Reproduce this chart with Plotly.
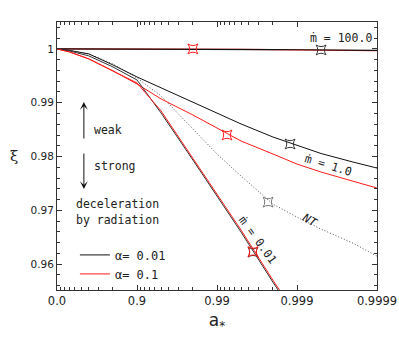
import plotly.graph_objects as go

# spin parameter grid (a_*) shared by the curves
a_star = [0.0, 0.3, 0.6, 0.8, 0.9, 0.95, 0.98, 0.99, 0.995, 0.998, 0.999, 0.9995, 0.9998, 0.9999]

# xi(a_*) for alpha = 0.01 (black) and alpha = 0.1 (red)
xi_m100_a001 = [1.0, 1.0, 1.0, 1.0, 1.0, 1.0, 0.99998, 0.99996, 0.99993, 0.99988, 0.99984, 0.99981, 0.99977, 0.99974]
xi_m100_a01 = [1.0, 1.0, 1.0, 1.0, 1.0, 1.0, 0.99998, 0.99995, 0.99991, 0.99985, 0.9998, 0.99976, 0.9997, 0.99966]
xi_m1_a001 = [1.0, 0.99972, 0.99907, 0.99702, 0.99479, 0.99274, 0.99014, 0.98809, 0.98605, 0.98363, 0.98205, 0.98056, 0.97898, 0.97786]
xi_m1_a01 = [1.0, 0.99944, 0.99814, 0.99591, 0.99349, 0.9907, 0.98772, 0.9853, 0.98288, 0.98047, 0.9786, 0.97712, 0.97544, 0.97414]
xi_nt = [1.0, 0.99972, 0.99907, 0.99721, 0.9946, 0.99126, 0.98512, 0.98047, 0.97637, 0.97116, 0.96874, 0.96651, 0.96391, 0.96149]

# steep curves, only up to a_* = 0.999
a_star_low = [0.0, 0.3, 0.6, 0.8, 0.9, 0.95, 0.98, 0.99, 0.995, 0.998, 0.999]
xi_m001_a001 = [1.0, 0.99963, 0.9987, 0.99665, 0.99423, 0.98809, 0.97935, 0.97265, 0.96595, 0.95665, 0.94995]
xi_m001_a01 = [1.0, 0.99944, 0.99814, 0.99591, 0.99367, 0.98847, 0.97972, 0.97302, 0.96633, 0.95702, 0.95033]

# star markers
star_a_black = [0.9995, 0.99878, 0.99645]
star_xi_black = [0.99981, 0.98233, 0.96223]
star_a_red = [0.98, 0.9925, 0.99645]
star_xi_red = [1.0, 0.984, 0.96233]
star_a_nt = [0.9977]
star_xi_nt = [0.97153]

x_ticks = [0.0, 0.9, 0.99, 0.999, 0.9999]
x_ticklabels = ["0.0", "0.9", "0.99", "0.999", "0.9999"]
y_ticks = [0.96, 0.97, 0.98, 0.99, 1.0]
y_ticklabels = ["0.96", "0.97", "0.98", "0.99", "1"]

BLACK = "#111111"
RED = "#ff1a1a"
MONO = "DejaVu Sans Mono, Liberation Mono, monospace"
SANS = "DejaVu Sans, sans-serif"


def om(a_list):
    # x axis is log(1 - a_*) reversed
    return [1.0 - a for a in a_list]


fig = go.Figure()

fig.add_trace(go.Scatter(x=om(a_star), y=xi_m100_a01, mode="lines",
                         line=dict(color=RED, width=1.2), showlegend=False))
fig.add_trace(go.Scatter(x=om(a_star), y=xi_m100_a001, mode="lines",
                         line=dict(color=BLACK, width=1.2), showlegend=False))
fig.add_trace(go.Scatter(x=om(a_star), y=xi_nt, mode="lines",
                         line=dict(color="#555555", width=1, dash="1px,2px"), showlegend=False))
fig.add_trace(go.Scatter(x=om(a_star), y=xi_m1_a01, mode="lines",
                         line=dict(color=RED, width=1), showlegend=False))
fig.add_trace(go.Scatter(x=om(a_star), y=xi_m1_a001, mode="lines",
                         line=dict(color=BLACK, width=1), showlegend=False))
fig.add_trace(go.Scatter(x=om(a_star_low), y=xi_m001_a001, mode="lines",
                         line=dict(color="#333333", width=1), showlegend=False))
fig.add_trace(go.Scatter(x=om(a_star_low), y=xi_m001_a01, mode="lines",
                         line=dict(color=RED, width=1), showlegend=False))

# legend entries
fig.add_trace(go.Scatter(x=[None], y=[None], mode="lines", name="α= 0.01",
                         line=dict(color=BLACK, width=1)))
fig.add_trace(go.Scatter(x=[None], y=[None], mode="lines", name="α= 0.1",
                         line=dict(color=RED, width=1)))

star = dict(symbol="star-square-open", size=9, line=dict(width=1))
fig.add_trace(go.Scatter(x=om(star_a_nt), y=star_xi_nt, mode="markers", showlegend=False,
                         marker=dict(star, color="#777777")))
fig.add_trace(go.Scatter(x=om(star_a_black), y=star_xi_black, mode="markers", showlegend=False,
                         marker=dict(star, color="#333333")))
fig.add_trace(go.Scatter(x=om(star_a_red), y=star_xi_red, mode="markers", showlegend=False,
                         marker=dict(star, color=RED)))

minor_x = [k * 10.0 ** -n for n in range(4) for k in range(2, 10)]

axis_style = dict(showline=True, linecolor="#333333", linewidth=1, mirror="allticks",
                  ticks="inside", ticklen=5, tickcolor="#333333", showgrid=False,
                  zeroline=False, automargin=False)

fig.update_xaxes(type="log", range=[0, -4], tickmode="array",
                 tickvals=om(x_ticks), ticktext=x_ticklabels,
                 tickfont=dict(family=SANS, size=11.5, color="#222222"),
                 minor=dict(tickmode="array", tickvals=minor_x, ticks="inside",
                            ticklen=3, tickcolor="#333333", showgrid=False),
                 title=dict(text="a<sub>*</sub>", font=dict(family=SANS, size=17, color="#222222"),
                            standoff=7),
                 **axis_style)
fig.update_yaxes(range=[0.9552, 1.005], tickmode="array",
                 tickvals=y_ticks, ticktext=y_ticklabels, ticklabelstandoff=0,
                 tickfont=dict(family=SANS, size=10.5, color="#222222"),
                 minor=dict(dtick=0.002, ticks="inside", ticklen=3,
                            tickcolor="#333333", showgrid=False),
                 **axis_style)

txt = dict(family=MONO, size=11.5, color="#222222")
notes = [
    dict(x=0.109, y=0.597, text="weak", xanchor="left"),
    dict(x=0.109, y=0.463, text="strong", xanchor="left"),
    dict(x=0.053, y=0.321, text="deceleration", xanchor="left"),
    dict(x=0.053, y=0.261, text="by radiation", xanchor="left"),
    dict(x=0.99, y=0.940, text="ṁ = 100.0", xanchor="right"),
    dict(x=0.847, y=0.466, text="ṁ = 1.0", xanchor="center", textangle=17),
    dict(x=0.79, y=0.262, text="<i>NT</i>", xanchor="center", textangle=30),
    dict(x=0.628, y=0.187, text="ṁ = 0.01", xanchor="center", textangle=54),
]
for n in notes:
    fig.add_annotation(xref="paper", yref="paper", yanchor="middle", showarrow=False,
                       font=txt, **n)

# xi label, horizontal
fig.add_annotation(xref="paper", yref="paper", x=-0.134, y=0.5, text="ξ", showarrow=False,
                   xanchor="center", yanchor="middle",
                   font=dict(family="DejaVu Serif, serif", size=15, color="#222222"))

# weak / strong arrows
fig.add_annotation(xref="paper", yref="paper", x=0.084, y=0.7015, ax=0, ay=38,
                   showarrow=True, arrowhead=3, arrowsize=1.3, arrowwidth=1,
                   arrowcolor="#111111", text="")
fig.add_annotation(xref="paper", yref="paper", x=0.084, y=0.3769, ax=0, ay=-37,
                   showarrow=True, arrowhead=3, arrowsize=1.3, arrowwidth=1,
                   arrowcolor="#111111", text="")

fig.update_layout(
    width=399, height=338,
    margin=dict(l=57, r=22, t=22, b=48),
    plot_bgcolor="white", paper_bgcolor="white",
    legend=dict(x=0.056, y=0.185, xanchor="left", yanchor="top",
                bgcolor="rgba(0,0,0,0)", font=dict(family=MONO, size=12, color="#222222"),
                tracegroupgap=0),
)

# drop the default page margin so the figure sits at the window corner
fig.write_html("out.html", config={"displayModeBar": False},
               post_script="document.body.style.margin = '0';")
